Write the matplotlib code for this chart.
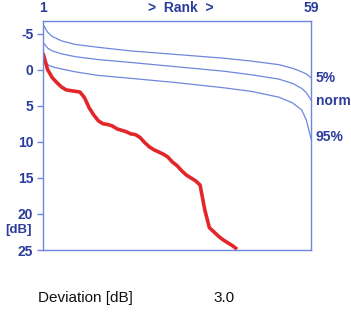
import matplotlib
matplotlib.use("Agg")
import matplotlib.pyplot as plt

# measured curve (red), one value per rank
meas_rank = list(range(1, 44))
meas_db = [-2.3, 0.0, 1.1, 1.8, 2.4, 2.8, 2.9, 3.0, 3.1, 3.9,
           5.3, 6.3, 7.1, 7.5, 7.6, 7.8, 8.2, 8.4, 8.6, 8.9,
           9.0, 9.4, 10.1, 10.7, 11.1, 11.4, 11.7, 12.1, 12.8, 13.3,
           14.0, 14.6, 15.0, 15.4, 16.0, 19.4, 21.9, 22.5, 23.1, 23.6,
           24.0, 24.4, 24.9]

# reference curves (blue)
ref_rank = [1, 2, 3, 5, 8, 13, 20, 30, 40, 46, 52, 55, 57, 58, 59]
p5_db = [-6.3, -5.2, -4.6, -4.0, -3.5, -3.1, -2.6, -2.1, -1.6, -1.2, -0.7, -0.2, 0.3, 0.6, 1.1]
norm_db = [-3.8, -3.0, -2.6, -2.2, -1.8, -1.4, -1.0, -0.4, 0.2, 0.7, 1.3, 1.9, 2.6, 3.2, 4.2]
p95_db = [-1.4, -0.7, -0.4, -0.1, 0.3, 0.8, 1.2, 1.8, 2.5, 3.0, 3.8, 4.6, 5.6, 7.0, 9.6]

yticks = [-5, 0, 5, 10, 15, 20, 25]

blue = "#6f86dc"
dark = "#2b3c9c"

plt.rcParams['font.family'] = ['Liberation Sans', 'DejaVu Sans']

fig = plt.figure(figsize=(3.51, 3.30), dpi=100)
ax = fig.add_axes([43/351, 1 - 250/330, 268/351, 229/330])

ax.plot(ref_rank, p5_db, color=blue, lw=0.9)
ax.plot(ref_rank, norm_db, color=blue, lw=0.9)
ax.plot(ref_rank, p95_db, color=blue, lw=0.9)
ax.plot(meas_rank, meas_db, color="#e3262a", lw=2.6, solid_capstyle="butt")

ax.set_xlim(1, 59)
ax.set_ylim(25, -6.75)
ax.set_xticks([])
ax.set_yticks(yticks)
ax.set_yticklabels([str(t) for t in yticks], fontsize=10, fontweight="bold", color=dark)
ax.tick_params(axis="y", colors=blue, labelcolor=dark, length=4, width=1, pad=3)
for s in ax.spines.values():
    s.set_color(blue)
    s.set_linewidth(1)

# unit label between 20 and 25
fig.text(19/351, 1 - 230.5/330, "[dB]", ha="center", va="center",
         fontsize=9.5, fontweight="bold", color=dark)

fig.text(43/351, 1 - 8/330, "1", ha="center", va="center", fontsize=10, fontweight="bold", color=dark)
fig.text(311/351, 1 - 8/330, "59", ha="center", va="center", fontsize=10, fontweight="bold", color=dark)
fig.text(181/351, 1 - 8/330, ">  Rank  >", ha="center", va="center", fontsize=10, fontweight="bold", color=dark)

fig.text(316/351, 1 - 78/330, "5%", ha="left", va="center", fontsize=10, fontweight="bold", color=dark)
fig.text(316/351, 1 - 101/330, "norm", ha="left", va="center", fontsize=10, fontweight="bold", color=dark)
fig.text(316/351, 1 - 137/330, "95%", ha="left", va="center", fontsize=10, fontweight="bold", color=dark)

fig.text(38/351, 1 - 298/330, "Deviation [dB]", ha="left", va="center", fontsize=11, color="#111111")
fig.text(213/351, 1 - 298/330, "3.0", ha="left", va="center", fontsize=11, color="#111111")

fig.savefig("out.png", dpi=100)
